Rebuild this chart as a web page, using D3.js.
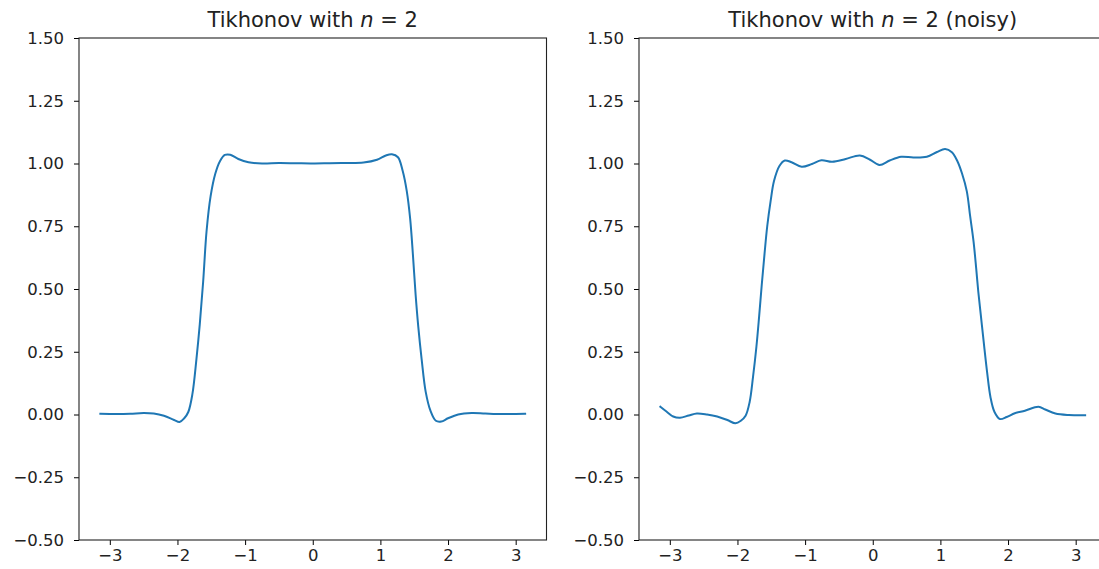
<!DOCTYPE html>
<html>
<head>
<meta charset="utf-8">
<script src="https://cdn.jsdelivr.net/npm/d3@7"></script>
<style>
  body { margin: 0; background: #fff; overflow: hidden; }
  svg { display: block; }
</style>
</head>
<body>
<div id="chart"></div>
<script>
// titles and tick values
var titles = ["Tikhonov with ", "Tikhonov with "];
var titleSuffix = ["", " (noisy)"];
var xTicks = [-3, -2, -1, 0, 1, 2, 3];
var yTicks = [-0.5, -0.25, 0, 0.25, 0.5, 0.75, 1, 1.25, 1.5];

// clean reconstruction
var cleanX = [-3.14, -2.9, -2.7, -2.5, -2.35, -2.2, -2.05, -1.97, -1.9, -1.84, -1.78, -1.72, -1.67, -1.62, -1.57, -1.51, -1.44, -1.37, -1.3, -1.22, -1.1, -0.95, -0.75, -0.5, -0.25, 0, 0.25, 0.5, 0.75, 0.95, 1.08, 1.17, 1.26, 1.33, 1.39, 1.44, 1.48, 1.52, 1.56, 1.61, 1.67, 1.74, 1.82, 1.9, 2.0, 2.15, 2.35, 2.55, 2.8, 3.14];
var cleanY = [0.003, 0.002, 0.003, 0.006, 0.004, -0.005, -0.022, -0.03, -0.015, 0.01, 0.08, 0.22, 0.36, 0.53, 0.73, 0.87, 0.96, 1.01, 1.034, 1.035, 1.018, 1.005, 1.0, 1.002, 1.001, 1.0, 1.001, 1.002, 1.004, 1.015, 1.032, 1.037, 1.025, 0.97, 0.89, 0.78, 0.64, 0.48, 0.35, 0.22, 0.09, 0.015, -0.025, -0.028, -0.015, 0.0, 0.006, 0.004, 0.002, 0.003];

// noisy reconstruction
var noisyX = [-3.14, -3.05, -2.95, -2.85, -2.72, -2.6, -2.45, -2.3, -2.15, -2.03, -1.95, -1.88, -1.82, -1.77, -1.72, -1.68, -1.64, -1.6, -1.56, -1.51, -1.46, -1.38, -1.3, -1.2, -1.05, -0.9, -0.76, -0.6, -0.4, -0.19, -0.04, 0.1, 0.25, 0.42, 0.6, 0.8, 0.95, 1.07, 1.17, 1.25, 1.32, 1.39, 1.44, 1.49, 1.53, 1.56, 1.6, 1.64, 1.69, 1.74, 1.8, 1.88, 1.98, 2.1, 2.25, 2.45, 2.55, 2.7, 2.9, 3.14];
var noisyY = [0.031, 0.012, -0.008, -0.013, -0.004, 0.004, 0.0, -0.008, -0.022, -0.035, -0.025, -0.005, 0.05, 0.15, 0.27, 0.39, 0.52, 0.64, 0.75, 0.85, 0.93, 0.99, 1.012, 1.005, 0.987, 0.998, 1.013, 1.007, 1.018, 1.032, 1.015, 0.994, 1.012, 1.027, 1.024, 1.027, 1.046, 1.058, 1.045, 1.01, 0.96, 0.89, 0.79, 0.69, 0.58, 0.49, 0.39, 0.29, 0.17, 0.07, 0.01, -0.018, -0.01, 0.005, 0.015, 0.031, 0.02, 0.004, -0.002, -0.003];

var W = 1099, H = 569;
var font = "'DejaVu Sans', sans-serif";
var tickFont = 16.5, titleFont = 21;
var plotTop = 38, plotBottom = 540;
var panels = [
  {left: 79, right: 546.5, xs: cleanX, ys: cleanY},
  {left: 639, right: 1106.5, xs: noisyX, ys: noisyY}
];

var svg = d3.select("#chart")
  .append("svg")
    .attr("width", W)
    .attr("height", H);

panels.forEach(function(p, i) {
  var x = d3.scaleLinear()
    .domain([-Math.PI * 1.1, Math.PI * 1.1])
    .range([p.left, p.right]);
  var y = d3.scaleLinear()
    .domain([-0.5, 1.5])
    .range([plotBottom, plotTop]);

  var g = svg.append("g");

  // the curve
  var pts = p.xs.map(function(v, j) { return [v, p.ys[j]]; });
  var line = d3.line()
    .x(function(d) { return x(d[0]); })
    .y(function(d) { return y(d[1]); })
    .curve(d3.curveCatmullRom.alpha(0.5));
  g.append("path")
    .datum(pts)
    .attr("fill", "none")
    .attr("stroke", "#1f77b4")
    .attr("stroke-width", 2)
    .attr("stroke-linejoin", "round")
    .attr("stroke-linecap", "square")
    .attr("d", line);

  // axes
  var xa = g.append("g")
    .attr("transform", "translate(0," + plotBottom + ")")
    .call(d3.axisBottom(x).tickValues(xTicks).tickSize(5).tickPadding(4)
      .tickFormat(function(d) { return d3.format("")(d).replace("-", "\u2212"); }));
  var ya = g.append("g")
    .attr("transform", "translate(" + p.left + ",0)")
    .call(d3.axisLeft(y).tickValues(yTicks).tickSize(5).tickPadding(10)
      .tickFormat(function(d) { return d3.format(".2f")(d).replace("-", "\u2212"); }));
  [xa, ya].forEach(function(a) {
    a.select(".domain").remove();
    a.selectAll("line").attr("stroke", "#000").attr("stroke-width", 1);
    a.selectAll("text")
      .attr("font-family", font)
      .attr("font-size", tickFont)
      .attr("fill", "#222");
  });

  // frame
  g.append("rect")
    .attr("x", p.left)
    .attr("y", plotTop)
    .attr("width", p.right - p.left)
    .attr("height", plotBottom - plotTop)
    .attr("fill", "none")
    .attr("stroke", "#222")
    .attr("stroke-width", 1.1);

  // title
  var t = g.append("text")
    .attr("x", (p.left + p.right) / 2)
    .attr("y", 27)
    .attr("text-anchor", "middle")
    .attr("font-family", font)
    .attr("font-size", titleFont)
    .attr("fill", "#222");
  t.append("tspan").text(titles[i]);
  t.append("tspan").attr("font-style", "italic").text("n");
  t.append("tspan").text(" = 2" + titleSuffix[i]);
});
</script>
</body>
</html>
